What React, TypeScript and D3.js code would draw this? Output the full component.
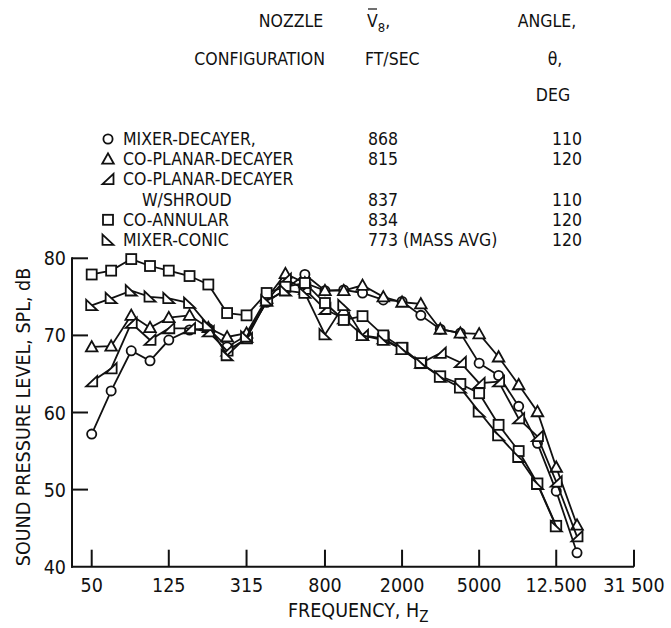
import React from "react";
import * as d3 from "d3";

// One-third-octave band centre frequencies, Hz
const BANDS = [50, 63, 80, 100, 125, 160, 200, 250, 315, 400, 500, 630, 800, 1000, 1250, 1600, 2000, 2500, 3150, 4000, 5000, 6300, 8000, 10000, 12500, 16000];

// Sound pressure level per band, dB
const MIXER_DECAYER = [57.2, 62.8, 68.0, 66.7, 69.4, 70.7, 70.9, 68.5, 70.0, 74.3, 76.0, 77.9, 75.8, 75.9, 75.5, 74.6, 74.4, 72.6, 70.8, 70.3, 66.4, 64.8, 60.8, 56.0, 49.8, 41.8];
const CO_PLANAR = [68.5, 68.6, 72.6, 71.0, 72.3, 72.6, 71.0, 69.8, 70.3, 74.8, 78.0, 76.8, 75.8, 75.8, 76.5, 75.0, 74.3, 74.1, 70.8, 70.3, 70.2, 67.2, 63.6, 60.1, 52.9, 45.4];
const CO_PLANAR_SHROUD = [64.0, 65.7, 71.6, 69.4, 70.9, 70.9, 70.5, 68.0, 69.6, 74.5, 77.3, 76.0, 73.4, 72.2, 70.0, 69.6, 68.2, 66.4, 67.7, 66.5, 63.8, 64.0, 59.2, 56.9, 51.0, 43.9];
const CO_ANNULAR = [77.9, 78.4, 79.9, 79.0, 78.4, 77.7, 76.6, 72.9, 72.6, 75.5, 76.3, 76.8, 74.2, 72.0, 72.5, 70.0, 68.4, 66.4, 64.7, 63.7, 62.5, 58.4, 55.0, 50.8, 45.3];
const MIXER_CONIC = [73.9, 74.8, 75.8, 75.0, 74.8, 74.2, 71.3, 67.4, 69.8, 74.5, 75.8, 75.5, 70.1, 73.9, 70.0, 69.4, 68.2, 66.4, 64.6, 63.2, 60.1, 57.0, 54.2, 50.7, 45.2];

// Axis ticks
const X_TICKS = [50, 125, 315, 800, 2000, 5000, 12500, 31500];
const X_TICK_LABELS = ["50", "125", "315", "800", "2000", "5000", "12.500", "31 500"];
const Y_TICKS = [40, 50, 60, 70, 80];

// Legend table
const LEGEND_NAMES = ["MIXER-DECAYER,", "CO-PLANAR-DECAYER", "CO-PLANAR-DECAYER", "W/SHROUD", "CO-ANNULAR", "MIXER-CONIC"];
const LEGEND_MARKERS = ["circle", "triUp", "triRight", "", "square", "triLeft"];
const LEGEND_VELOCITY = ["868", "815", "", "837", "834", "773 (MASS AVG)"];
const LEGEND_ANGLE = ["110", "120", "", "110", "120", "120"];

const SERIES = [
  { values: MIXER_DECAYER, marker: "circle" },
  { values: CO_PLANAR, marker: "triUp" },
  { values: CO_PLANAR_SHROUD, marker: "triRight" },
  { values: CO_ANNULAR, marker: "square" },
  { values: MIXER_CONIC, marker: "triLeft" },
];

const FONT = "'Liberation Sans Narrow', 'DejaVu Sans Condensed', 'Roboto Condensed', 'Arial Narrow', sans-serif";
const INK = "#111";

const W = 671;
const H = 628;

const x = d3.scaleLog().domain([50, 31500]).range([91.7, 634]);
const y = d3.scaleLinear().domain([40, 80]).range([566.7, 258.3]);

function Marker({ kind, cx, cy }: { kind: string; cx: number; cy: number }) {
  const common = { fill: "#fff", stroke: INK, strokeWidth: 1.8 };
  const s = 5;
  if (kind === "circle") return <circle cx={cx} cy={cy} r={4.6} {...common} />;
  if (kind === "square") return <rect x={cx - s} y={cy - s} width={2 * s} height={2 * s} {...common} />;
  let pts: [number, number][] = [];
  if (kind === "triUp") pts = [[cx - 5.8, cy + 4.5], [cx + 5.8, cy + 4.5], [cx, cy - 5.8]];
  if (kind === "triRight") pts = [[cx - 5.5, cy + 4.8], [cx + 5.5, cy + 4.8], [cx + 5.5, cy - 5.5]];
  if (kind === "triLeft") pts = [[cx - 5.5, cy + 4.8], [cx + 5.5, cy + 4.8], [cx - 5.5, cy - 5.5]];
  return <polygon points={pts.map((p) => p.join(",")).join(" ")} {...common} />;
}

export default function App() {
  const line = d3
    .line<number>()
    .x((_, i) => x(BANDS[i]))
    .y((d) => y(d));

  const legendRowY = (i: number) => 145 + i * 20.2;

  return (
    <svg
      width={W}
      height={H}
      style={{ position: "absolute", left: 0, top: 0, background: "#fff" }}
      fontFamily={FONT}
      fill={INK}
    >
      {/* Legend header */}
      <g fontSize={17.5}>
        <text x={291} y={27} textAnchor="middle">NOZZLE</text>
        <text x={325} y={65} textAnchor="end">CONFIGURATION</text>
        <text x={367} y={27}>
          V<tspan fontSize={13} dy={5}>8</tspan>
          <tspan dy={-5}>,</tspan>
        </text>
        <line x1={368} x2={377} y1={9} y2={9} stroke={INK} strokeWidth={1.2} />
        <text x={365} y={65}>FT/SEC</text>
        <text x={547} y={27} textAnchor="middle">ANGLE,</text>
        <text x={555} y={65} textAnchor="middle">θ,</text>
        <text x={553} y={101} textAnchor="middle">DEG</text>
      </g>

      {/* Legend rows */}
      <g fontSize={17.5}>
        {LEGEND_NAMES.map((name, i) => {
          const ry = legendRowY(i);
          const mk = LEGEND_MARKERS[i];
          return (
            <g key={i}>
              {mk && <Marker kind={mk} cx={108} cy={ry - 6} />}
              <text x={mk ? 123 : 142} y={ry}>{name}</text>
              {LEGEND_VELOCITY[i] && <text x={368} y={ry}>{LEGEND_VELOCITY[i]}</text>}
              {LEGEND_ANGLE[i] && <text x={552} y={ry}>{LEGEND_ANGLE[i]}</text>}
            </g>
          );
        })}
      </g>

      {/* Axes */}
      <g stroke={INK} strokeWidth={2}>
        <line x1={72} x2={72} y1={y(80) - 1} y2={y(40) + 1} />
        <line x1={71} x2={x(31500)} y1={y(40)} y2={y(40)} />
        {Y_TICKS.filter((t) => t > 40).map((t) => (
          <line key={t} x1={72} x2={88} y1={y(t)} y2={y(t)} />
        ))}
        {X_TICKS.map((t) => (
          <line key={t} x1={x(t)} x2={x(t)} y1={y(40)} y2={y(40) - 17} />
        ))}
      </g>
      <g fontSize={19.5}>
        {Y_TICKS.map((t) => (
          <text key={t} x={66} y={y(t) + 7} textAnchor="end">{t}</text>
        ))}
        {X_TICKS.map((t, i) => (
          <text key={t} x={x(t)} y={592} textAnchor="middle">{X_TICK_LABELS[i]}</text>
        ))}
        <text x={288} y={617}>
          FREQUENCY, H<tspan fontSize={15} dy={5}>Z</tspan>
        </text>
        <text transform={`translate(30, ${417}) rotate(-90)`} textAnchor="middle">
          SOUND PRESSURE LEVEL, SPL, dB
        </text>
      </g>

      {/* Spectra */}
      {SERIES.map((s, k) => (
        <g key={k}>
          <path d={line(s.values) ?? ""} fill="none" stroke={INK} strokeWidth={1.8} />
          {s.values.map((v, i) => (
            <Marker key={i} kind={s.marker} cx={x(BANDS[i])} cy={y(v)} />
          ))}
        </g>
      ))}
    </svg>
  );
}
